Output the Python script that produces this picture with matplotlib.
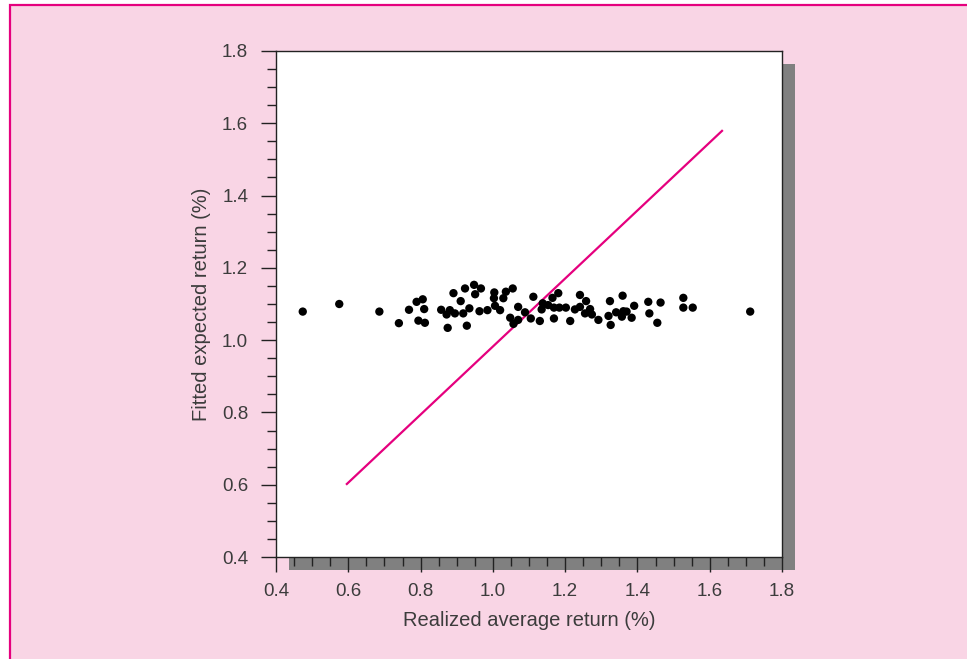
import matplotlib
matplotlib.use("Agg")
import matplotlib.pyplot as plt
from matplotlib.patches import Rectangle
from matplotlib.ticker import MultipleLocator

# realized vs fitted expected return (%)
realized = [0.474, 0.575, 0.686, 0.740, 0.768, 0.789, 0.806, 0.810, 0.794, 0.812,
            0.857, 0.872, 0.881, 0.895, 0.875, 0.891, 0.911, 0.923, 0.918, 0.935,
            0.928, 0.948, 0.967, 0.951, 0.963, 0.985, 1.004, 1.003, 1.006, 1.020,
            1.036, 1.029, 1.055, 1.048, 1.057, 1.070, 1.070, 1.089, 1.105, 1.112,
            1.130, 1.138, 1.135, 1.153, 1.165, 1.181, 1.169, 1.184, 1.169, 1.202,
            1.214, 1.227, 1.241, 1.241, 1.258, 1.269, 1.255, 1.274, 1.292, 1.324,
            1.320, 1.326, 1.341, 1.359, 1.361, 1.357, 1.370, 1.384, 1.391, 1.430,
            1.464, 1.433, 1.455, 1.527, 1.527, 1.553, 1.712]
fitted = [1.079, 1.100, 1.079, 1.047, 1.084, 1.106, 1.113, 1.086, 1.054, 1.048,
          1.084, 1.071, 1.083, 1.074, 1.034, 1.130, 1.108, 1.143, 1.074, 1.088,
          1.040, 1.153, 1.143, 1.127, 1.080, 1.083, 1.132, 1.116, 1.095, 1.083,
          1.134, 1.116, 1.143, 1.062, 1.045, 1.092, 1.056, 1.077, 1.060, 1.120,
          1.053, 1.102, 1.085, 1.097, 1.117, 1.130, 1.090, 1.090, 1.060, 1.090,
          1.053, 1.085, 1.125, 1.092, 1.108, 1.086, 1.074, 1.071, 1.056, 1.108,
          1.067, 1.042, 1.077, 1.123, 1.080, 1.065, 1.079, 1.062, 1.095, 1.106,
          1.104, 1.074, 1.048, 1.117, 1.090, 1.090, 1.079]

# reference line endpoints
line_x = [0.596, 1.634]
line_y = [0.602, 1.579]

xticks = [0.4, 0.6, 0.8, 1.0, 1.2, 1.4, 1.6, 1.8]
yticks = [0.4, 0.6, 0.8, 1.0, 1.2, 1.4, 1.6, 1.8]

pink = "#F9D5E5"
magenta = "#E5007E"
text_col = "#3c3c3c"

plt.rcParams["font.family"] = ["Liberation Sans", "DejaVu Sans"]

W, H = 967, 659
fig = plt.figure(figsize=(W / 100, H / 100), dpi=100, facecolor="white")

# pink panel with magenta top/left border (other edges run off the figure)
fig.patches.append(Rectangle((10 / W, -0.1), 1.2, 1.1 - 5 / H,
                             transform=fig.transFigure, facecolor=pink,
                             edgecolor=magenta, linewidth=1.6, zorder=0))

ax_l, ax_r, ax_t, ax_b = 276, 782, 51, 557
pos = [ax_l / W, 1 - ax_b / H, (ax_r - ax_l) / W, (ax_b - ax_t) / H]

# grey drop shadow behind the plot box
off = 13
fig.patches.append(Rectangle((pos[0] + off / W, pos[1] - off / H), pos[2], pos[3],
                             transform=fig.transFigure, facecolor="#808080",
                             edgecolor="none", zorder=1))

ax = fig.add_axes(pos)
ax.set_zorder(2)
ax.set_facecolor("white")

ax.plot(line_x, line_y, color=magenta, lw=1.6, zorder=2)
ax.scatter(realized, fitted, s=36, color="black", edgecolors="none", zorder=3)

ax.set_xlim(0.4, 1.8)
ax.set_ylim(0.4, 1.8)
ax.set_xticks(xticks)
ax.set_yticks(yticks)
ax.set_xticklabels([f"{v:.1f}" for v in xticks])
ax.set_yticklabels([f"{v:.1f}" for v in yticks])
ax.xaxis.set_minor_locator(MultipleLocator(0.05))
ax.yaxis.set_minor_locator(MultipleLocator(0.05))
ax.tick_params(which="major", direction="out", length=11, width=1, color="#222222",
               labelsize=13.5, labelcolor=text_col)
ax.tick_params(axis="y", which="major", pad=9)
ax.tick_params(axis="x", which="major", pad=8)
ax.tick_params(which="minor", direction="out", length=6.5, width=1, color="#222222")

for sp in ax.spines.values():
    sp.set_color("#222222")
    sp.set_linewidth(1)

ax.set_xlabel("Realized average return (%)", fontsize=14.5, color=text_col, labelpad=8)
ax.set_ylabel("Fitted expected return (%)", fontsize=14.5, color=text_col, labelpad=8)

fig.savefig("out.png", dpi=100, facecolor=fig.get_facecolor())
plt.close()
